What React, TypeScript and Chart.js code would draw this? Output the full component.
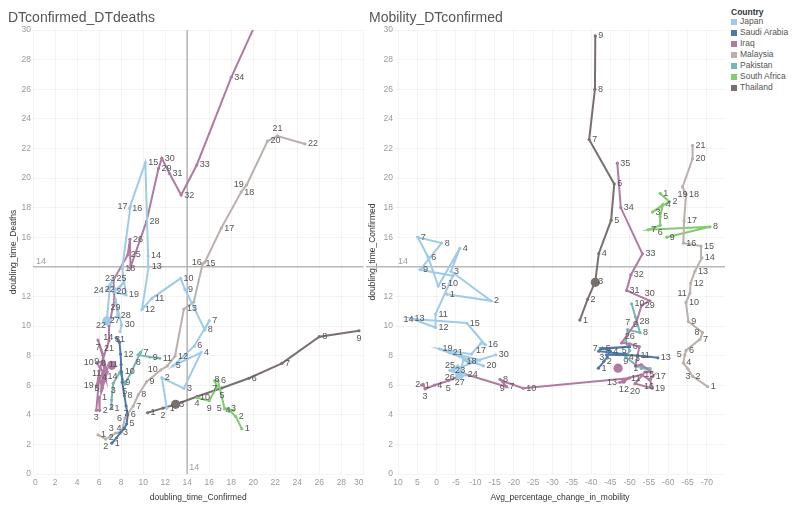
import React, { useEffect, useRef } from 'react';
import { Chart, registerables } from 'chart.js';

Chart.register(...registerables);

const FONT = 'Arial, "Liberation Sans", sans-serif';

// ---------- data ----------
const countries = ['Japan', 'Saudi Arabia', 'Iraq', 'Malaysia', 'Pakistan', 'South Africa', 'Thailand'];
const countryColors = ['#a0cbe8', '#4e79a7', '#b07aa1', '#bab0ac', '#76b7b2', '#80cc6e', '#79706e'];

// doubling_time_Confirmed, doubling_time_Deaths, Avg_percentage_change_in_mobility (day 1..n)
const japanConf = [12.15, 11.7, 13.7, 15.25, 12.7, 14.65, 16.0, 15.6, 13.8, 13.4, 10.8, 9.9, 10.5, 10.45, 10.2, 8.75, 8.85, 8.1, 8.45, 7.3, 8.2, 7.7, 7.0, 6.7, 7.3, 7.0, 6.7, 7.7, 7.5, 8.05, 7.9];
const japanDeaths = [4.44, 6.5, 5.79, 8.2, 7.3, 8.65, 10.36, 9.73, 12.48, 13.22, 11.87, 11.13, 14.0, 14.73, 21.03, 17.95, 18.1, 13.9, 12.1, 12.3, 12.9, 12.45, 12.7, 12.43, 13.2, 12.8, 10.34, 10.68, 11.76, 10.07, 9.62];
const japanMob = [-2.6, -14.1, -3.7, -6.0, -0.4, 2.2, 4.9, -1.3, 4.3, -4.2, 0.3, 0.3, 6.5, 5.2, -7.8, -12.5, -11.5, -9.0, -0.7, -12.1, -3.4, -11.2, -4.0, -7.3, -5.5, -3.4, -6.0, -6.9, -8.5, -15.3, null];

const saudiConf = [7.15, 7.6, 7.9, 8.3, 8.5, 8.6, 8.45, 8.3, 8.1, 8.05, 8.0, 7.95, 7.85, 7.55];
const saudiDeaths = [2.08, 2.45, 2.77, 3.1, 3.38, 4.0, 4.6, 5.3, 6.2, 6.9, 7.4, 8.1, 8.9, 9.2];
const saudiMob = [-41.9, -43.3, -44.2, -45, -43, -50, -42.5, -42, -49, -44, -52, -54, -57.3, null];

const iraqConf = [6.0, 6.05, 5.75, 6.0, 6.3, 6.75, 5.9, 6.4, 6.28, 5.79, 6.47, 6.2, 6.2, 6.5, 6.7, 6.4, 6.6, 6.35, 5.8, 6.1, 6.9, 6.9, 7.4, 7.3, 8.6, 8.8, 8.85, 10.3, 11.4, 11.7, 12.4, 13.45, 14.87, 18.0, 21.0];
const iraqDeaths = [5.2, 4.3, 4.3, 6.5, 5.8, 6.9, 9.05, 8.0, 7.6, 7.5, 6.8, 6.2, 5.6, 6.6, 7.1, 7.4, 6.4, 6.9, 6.0, 7.2, 9.0, 10.0, 11.8, 13.1, 14.8, 15.86, 13.97, 17.05, 20.65, 21.33, 20.3, 18.85, 20.88, 26.8, 31.7];
const iraqMob = [3.9, 3.5, 3.0, 0.6, -3.0, -7.3, -18.1, -16.4, -17.0, -22.4, -49.6, -48.5, -47.5, -50, -53, -55, -56, -55.3, -55.8, -51.4, -54, -55.5, -53, -51.5, -52.5, -50, -47.9, -51.8, -53.1, -55.2, -49.2, -50.3, -53.3, -47.7, -46.8];

const malaysiaConf = [5.9, 6.6, 7.1, 7.5, 8.05, 8.35, 9.1, 9.55, 10.3, 11.6, 12.2, 12.9, 13.7, 14.6, 15.4, 15.6, 17.1, 18.9, 19.4, 21.3, 22.2, 24.7];
const malaysiaDeaths = [2.64, 2.36, 2.57, 2.77, 2.84, 3.78, 4.59, 5.34, 6.22, 7.03, 7.3, 7.97, 11.15, 11.62, 14.19, 14.32, 16.62, 19.05, 19.53, 22.5, 22.84, 22.3];
const malaysiaMob = [-70.2, -66.3, -65.1, -63.9, -64.3, -64.6, -68.2, -68.9, -65.2, -64.6, -65.6, -65.8, -66.9, -68.7, -68.5, -63.9, -64.1, -64.6, -63.7, -66.3, -66.3, null];

const pakistanConf = [7.13, 7.13, 7.28, 7.9, 8.34, 8.94, 9.75, 9.55, 10.6, 11.5];
const pakistanDeaths = [4.44, 5.0, 6.13, 6.9, 6.08, 6.91, 8.2, 8.05, 7.9, 7.82];
const pakistanMob = [-53, -55.3, -52, -49, -50, -49, -49.5, -52.7, -51.5, -50.5];

const southAfricaConf = [18.96, 18.4, 17.7, 18.2, 17.4, 16.8, 16.5, 16.7, 16.0, 14.9];
const southAfricaDeaths = [3.05, 3.9, 4.4, 4.3, 4.4, 6.3, 6.3, 5.9, 4.95, 5.15];
const southAfricaMob = [-57.9, -60.3, -55.9, -58.6, -57.9, -57.9, -54.8, -70.8, -59.6, null];

const thailandConf = [10.4, 11.8, 13.0, 14.9, 17.15, 19.6, 22.6, 26.0, 29.6];
const thailandDeaths = [4.14, 4.45, 4.71, 5.24, 5.81, 6.47, 7.48, 9.28, 9.68];
const thailandMob = [-37.1, -39.1, -41.1, -42.0, -45.2, -46.0, -39.5, -41.0, -41.1];

// highlighted (large) marks
const bigCountries = ['Japan', 'Iraq', 'Thailand'];
const bigConf = [6.7, 7.15, 12.95];
const bigDeaths = [10.34, 7.34, 4.71];
const bigMob = [-6.0, -47.0, -41.1];

// axes
const confTicks = [0, 2, 4, 6, 8, 10, 12, 14, 16, 18, 20, 22, 24, 26, 28, 30];
const yTicks = [0, 2, 4, 6, 8, 10, 12, 16, 18, 20, 22, 24, 26, 28, 30];
const mobilityTicks = [10, 5, 0, -5, -10, -15, -20, -25, -30, -35, -40, -45, -50, -55, -60, -65, -70];
const refValue = 14;

const seriesTable = [
  { conf: japanConf, deaths: japanDeaths, mob: japanMob },
  { conf: saudiConf, deaths: saudiDeaths, mob: saudiMob },
  { conf: iraqConf, deaths: iraqDeaths, mob: iraqMob },
  { conf: malaysiaConf, deaths: malaysiaDeaths, mob: malaysiaMob },
  { conf: pakistanConf, deaths: pakistanDeaths, mob: pakistanMob },
  { conf: southAfricaConf, deaths: southAfricaDeaths, mob: southAfricaMob },
  { conf: thailandConf, deaths: thailandDeaths, mob: thailandMob },
];

const BIG = '__big';
const GRID = 'rgba(0,0,0,0.045)';

// ---------- plugins ----------
const refLinePlugin = {
  id: 'refLines',
  beforeDatasetsDraw(chart: any, _args: any, opts: any) {
    const { ctx, chartArea: a, scales } = chart;
    ctx.save();
    ctx.strokeStyle = '#b8b8b8';
    ctx.lineWidth = 1.6;
    ctx.font = `9px ${FONT}`;
    ctx.fillStyle = '#a0a0a0';
    ctx.textBaseline = 'middle';
    ctx.textAlign = 'left';
    if (opts.y != null) {
      const py = scales.y.getPixelForValue(opts.y);
      ctx.beginPath();
      ctx.moveTo(opts.extendLeft ? 0 : a.left, py);
      ctx.lineTo(a.right, py);
      ctx.stroke();
      ctx.fillText(String(opts.y), a.left + 3, py - 5);
    }
    if (opts.x != null) {
      const px = scales.x.getPixelForValue(opts.x);
      ctx.beginPath();
      ctx.moveTo(px, a.top);
      ctx.lineTo(px, a.bottom);
      ctx.stroke();
      ctx.fillText(String(opts.x), px + 2, a.bottom - 6);
    }
    ctx.restore();
  },
};

const dayLabelPlugin = {
  id: 'dayLabels',
  afterDatasetsDraw(chart: any) {
    const { ctx, chartArea: a } = chart;
    ctx.save();
    ctx.font = `9px ${FONT}`;
    ctx.fillStyle = '#555';
    ctx.textBaseline = 'middle';
    ctx.textAlign = 'left';
    const boxes: number[][] = [];
    const h = 9;
    chart.data.datasets.forEach((ds: any, di: number) => {
      if (ds.label === BIG) return;
      const meta = chart.getDatasetMeta(di);
      meta.data.forEach((pt: any, i: number) => {
        const d = ds.data[i];
        if (!d) return;
        const { x, y } = pt;
        if (x < a.left || x > a.right || y < a.top || y > a.bottom) return;
        const txt = String(d.day);
        const w = ctx.measureText(txt).width;
        const cands = [
          [x + 3, y - h / 2],
          [x - w / 2, y + 3],
          [x - 3 - w, y - h / 2],
          [x - w / 2, y - 3 - h],
        ];
        for (const [bx, by] of cands) {
          if (bx < a.left || bx + w > a.right || by < a.top || by + h > a.bottom) continue;
          if (boxes.some((b) => bx < b[0] + b[2] && bx + w > b[0] && by < b[1] + b[3] && by + h > b[1])) continue;
          boxes.push([bx, by, w, h]);
          ctx.fillText(txt, bx, by + h / 2);
          break;
        }
      });
    });
    ctx.restore();
  },
};

// ---------- config builders ----------
function lineDataset(idx: number, data: any[]) {
  const color = countryColors[idx];
  return {
    label: countries[idx],
    data,
    showLine: true,
    borderColor: color,
    backgroundColor: color,
    borderWidth: 2,
    pointRadius: 1.6,
    pointBorderWidth: 0,
    pointHoverRadius: 1.6,
    tension: 0,
    clip: 0,
    order: idx + 1,
  };
}

function bigDataset(points: any[]) {
  return {
    label: BIG,
    data: points,
    showLine: false,
    pointRadius: 4.6,
    pointBorderWidth: 0,
    pointBackgroundColor: bigCountries.map((c) => countryColors[countries.indexOf(c)]),
    backgroundColor: bigCountries.map((c) => countryColors[countries.indexOf(c)]),
    order: 0,
  };
}

function tickFont() {
  return { size: 8.5, family: FONT };
}

function yScale(title: string, axisWidth: number, titlePad: number) {
  return {
    type: 'linear',
    min: 0,
    max: 30,
    afterBuildTicks: (s: any) => {
      s.ticks = yTicks.map((v) => ({ value: v }));
    },
    afterFit: (s: any) => {
      s.width = axisWidth;
    },
    grid: { color: GRID, drawTicks: false },
    border: { display: false },
    ticks: { font: tickFont(), color: '#9a9a9a', padding: 2, autoSkip: false },
    title: {
      display: true,
      text: title,
      font: { size: 8.5, family: FONT },
      color: '#333',
      padding: { top: titlePad, bottom: 0 },
    },
  };
}

function leftConfig(): any {
  const datasets: any[] = seriesTable.map((s, idx) =>
    lineDataset(
      idx,
      s.conf.map((c, i) => ({ x: c, y: s.deaths[i], day: i + 1 }))
    )
  );
  datasets.push(bigDataset(bigConf.map((c, i) => ({ x: c, y: bigDeaths[i] }))));
  return {
    type: 'scatter',
    data: { datasets },
    plugins: [refLinePlugin, dayLabelPlugin],
    options: {
      animation: false,
      responsive: false,
      maintainAspectRatio: false,
      events: [],
      layout: { padding: { top: 30, right: 3, left: 0, bottom: 0 } },
      plugins: {
        legend: { display: false },
        tooltip: { enabled: false },
        refLines: { x: refValue, y: refValue, extendLeft: false },
      },
      scales: {
        x: {
          type: 'linear',
          min: 0,
          max: 30,
          afterBuildTicks: (s: any) => {
            s.ticks = confTicks.map((v) => ({ value: v }));
          },
          afterFit: (s: any) => {
            s.height = 37;
          },
          grid: { color: GRID, drawTicks: false },
          border: { display: false },
          ticks: { font: tickFont(), color: '#9a9a9a', padding: 4, align: 'inner', maxRotation: 0, autoSkip: false },
          title: {
            display: true,
            text: 'doubling_time_Confirmed',
            font: { size: 8.5, family: FONT },
            color: '#333',
            padding: { top: 0, bottom: 8 },
          },
        },
        y: yScale('doubling_time_Deaths', 33, 8.9),
      },
    },
  };
}

function rightConfig(): any {
  const datasets: any[] = seriesTable.map((s, idx) =>
    lineDataset(
      idx,
      s.mob
        .map((m, i) => (m == null ? null : { x: m, y: s.conf[i], day: i + 1 }))
        .filter((p) => p !== null)
    )
  );
  datasets.push(bigDataset(bigMob.map((m, i) => ({ x: m, y: bigConf[i] }))));
  return {
    type: 'scatter',
    data: { datasets },
    plugins: [refLinePlugin, dayLabelPlugin],
    options: {
      animation: false,
      responsive: false,
      maintainAspectRatio: false,
      events: [],
      layout: { padding: { top: 30, right: 5, left: 0, bottom: 0 } },
      plugins: {
        legend: { display: false },
        tooltip: { enabled: false },
        refLines: { x: null, y: refValue, extendLeft: true },
      },
      scales: {
        x: {
          type: 'linear',
          min: -74.7,
          max: 10.8,
          reverse: true,
          afterBuildTicks: (s: any) => {
            s.ticks = mobilityTicks.map((v) => ({ value: v }));
          },
          afterFit: (s: any) => {
            s.height = 37;
          },
          grid: { color: GRID, drawTicks: false },
          border: { display: false },
          ticks: { font: tickFont(), color: '#9a9a9a', padding: 4, maxRotation: 0, autoSkip: false },
          title: {
            display: true,
            text: 'Avg_percentage_change_in_mobility',
            font: { size: 8.5, family: FONT },
            color: '#333',
            padding: { top: 0, bottom: 8 },
          },
        },
        y: yScale('doubling_time_Confirmed', 29, 1.9),
      },
    },
  };
}

// ---------- component ----------
export default function App() {
  const leftRef = useRef<HTMLCanvasElement>(null);
  const rightRef = useRef<HTMLCanvasElement>(null);

  useEffect(() => {
    const c1 = new Chart(leftRef.current as HTMLCanvasElement, leftConfig());
    const c2 = new Chart(rightRef.current as HTMLCanvasElement, rightConfig());
    return () => {
      c1.destroy();
      c2.destroy();
    };
  }, []);

  const titleStyle: React.CSSProperties = {
    position: 'absolute',
    top: 8,
    fontSize: 14,
    lineHeight: '18px',
    color: '#555',
    whiteSpace: 'nowrap',
  };

  return (
    <div
      style={{
        position: 'fixed',
        left: 0,
        top: 0,
        width: 800,
        height: 511,
        background: '#fff',
        fontFamily: FONT,
        overflow: 'hidden',
      }}
    >
      <canvas ref={leftRef} width={368} height={511} style={{ position: 'absolute', left: 0, top: 0 }} />
      <canvas ref={rightRef} width={364} height={511} style={{ position: 'absolute', left: 366, top: 0 }} />
      <div style={{ ...titleStyle, left: 8 }}>DTconfirmed_DTdeaths</div>
      <div style={{ ...titleStyle, left: 369 }}>Mobility_DTconfirmed</div>
      <div style={{ position: 'absolute', left: 731, top: 8, fontSize: 8.5, color: '#555' }}>
        <div style={{ fontWeight: 'bold', color: '#333', height: 8, lineHeight: '8px' }}>Country</div>
        {countries.map((c, i) => (
          <div key={c} style={{ display: 'flex', alignItems: 'center', height: 11, lineHeight: '11px' }}>
            <span
              style={{
                display: 'inline-block',
                width: 6,
                height: 6,
                background: countryColors[i],
                marginRight: 3,
              }}
            />
            <span>{c}</span>
          </div>
        ))}
      </div>
    </div>
  );
}
